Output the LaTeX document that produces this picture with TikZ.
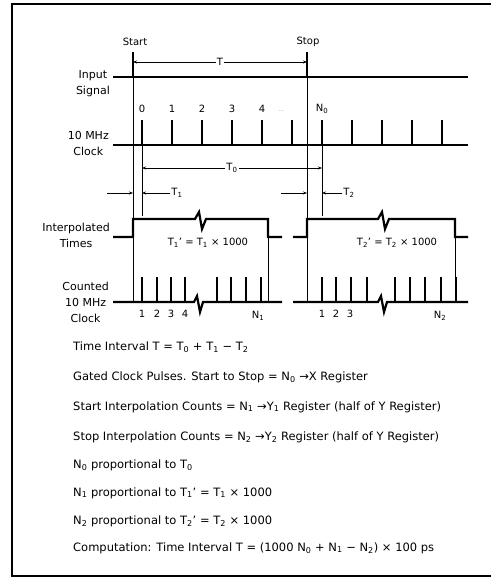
\documentclass[tikz,border=0pt]{standalone}
\usepackage{fontspec}
\setmainfont{DejaVu Sans}
\usetikzlibrary{arrows.meta}

\newcommand{\low}[1]{\textsubscript{#1}}

\begin{document}
\begin{tikzpicture}[x=1pt, y=-1pt, >={Stealth[length=4pt,width=3pt]},
    every node/.style={font=\fontsize{10}{16}\selectfont, inner sep=1pt},
    side/.style={align=center, anchor=east, font=\fontsize{11}{16}\selectfont},
    eq/.style={anchor=west, font=\fontsize{11.5}{14}\selectfont},
    signal/.style={line width=2.2pt},
    pulse/.style={line width=1.8pt},
    guide/.style={line width=0.6pt},
    dim/.style={line width=0.6pt}]

    \useasboundingbox (0,0) rectangle (491,581);
    \draw[line width=2.4pt] (491,4) -- (12,4) -- (12,576) -- (491,576);

    % time marks
    \coordinate (start) at (133,77);
    \coordinate (stop) at (307,77);
    \coordinate (c0) at (142,145);
    \coordinate (cN) at (322,145);
    \coordinate (e1) at (268,237);
    \coordinate (e2) at (455,237);
    \coordinate (rowT) at (0,62);
    \coordinate (rowTo) at (0,168);
    \coordinate (rowTi) at (0,193);
    \coordinate (cnt) at (0,302);

    \node (startlbl) at (135,42) {Start};
    \node (stoplbl) at (308,42) {Stop};

    \node[side] (insig) at (111,84) {Input\\Signal};
    \node[side] (clk) at (110,143) {10 MHz\\Clock};
    \node[side] (interp) at (111,235) {Interpolated\\Times};
    \node[side] (counted) at (110,302) {Counted\\10 MHz\\Clock};

    % input signal
    \draw[signal] (113,77) -- (468,77);
    \draw[pulse] (start) -- ++(0,-25);
    \draw[pulse] (stop) -- ++(0,-25);
    \draw[dim, <->] (start |- rowT) -- node[fill=white] (T) {T} (stop |- rowT);

    % 10 MHz clock
    \draw[signal] (113,145) -- (468,145);
    \foreach \i in {0,...,10}
        \draw[pulse] (142+30*\i,145) -- ++(0,-25);
    \foreach \i in {0,...,4}
        \node (n\i) at (142+30*\i,109) {\i};
    \node[font=\tiny, text=gray] (dots) at (281,111) {\ldots};
    \node (N0) at (322,109) {N\low{0}};

    % guide lines
    \draw[guide] (start) -- (start |- cnt);
    \draw[guide] (stop) -- (stop |- cnt);
    \draw[guide] (c0) -- ++(0,71);
    \draw[guide] (cN) -- ++(0,71);
    \draw[guide] (e1) -- (e1 |- cnt);
    \draw[guide] (e2) -- (e2 |- cnt);

    \draw[dim, <->] (c0 |- rowTo) -- node[fill=white] (To) {T\low{0}} (cN |- rowTo);

    \node (t1) at (177,193) {T\low{1}};
    \node (t2) at (349,193) {T\low{2}};
    \draw[dim, ->] (107,193) -- (start |- rowTi);
    \draw[dim, ->] (t1.west) -- (c0 |- rowTi);
    \draw[dim, ->] (281,193) -- (stop |- rowTi);
    \draw[dim, ->] (t2.west) -- (cN |- rowTi);

    % interpolated times
    \draw[signal] (113,237) -| (133,219) -- (195,219) -- (199,212) -- (202,229)
        -- (206,219) -| (e1) -- (282,237);
    \draw[signal] (293,237) -| (307,219) -- (378,219) -- (382,212) -- (385,229)
        -- (389,219) -| (e2) -- (468,237);
    \node (tp1) at (208,243) {T\low{1}' = T\low{1} × 1000};
    \node (tp2) at (397,243) {T\low{2}' = T\low{2} × 1000};

    % counted clock
    \draw[signal] (113,302) -- (194,302) -- (197,296) -- (200,312) -- (203,302) -- (282,302);
    \draw[signal] (293,302) -- (378,302) -- (381,296) -- (384,312) -- (387,302) -- (468,302);
    \foreach \x in {142,157,171,185,217,231,246,261,322,336,351,367,395,410,425,441}
        \draw[pulse] (\x,302) -- ++(0,-25);
    \draw[line width=2.6pt] (456,302) -- ++(0,-25);
    \foreach \x/\t in {142/1,157/2,171/3,185/4,322/1,336/2,350/3}
        \node at (\x,314) {\t};
    \node (N1) at (258,316) {N\low{1}};
    \node (N2) at (440,316) {N\low{2}};

    % equations
    \node[eq] (eq1) at (72,347) {Time Interval T = T\low{0} + T\low{1} − T\low{2}};
    \node[eq] (eq2) at (72,377) {Gated Clock Pulses. Start to Stop = N\low{0} →X Register};
    \node[eq] (eq3) at (72,407) {Start Interpolation Counts = N\low{1} →Y\low{1} Register (half of Y Register)};
    \node[eq] (eq4) at (72,437) {Stop Interpolation Counts = N\low{2} →Y\low{2} Register (half of Y Register)};
    \node[eq] (eq5) at (72,465) {N\low{0} proportional to T\low{0}};
    \node[eq] (eq6) at (72,493) {N\low{1} proportional to T\low{1}' = T\low{1} × 1000};
    \node[eq] (eq7) at (72,521) {N\low{2} proportional to T\low{2}' = T\low{2} × 1000};
    \node[eq] (eq8) at (72,548) {Computation: Time Interval T = (1000 N\low{0} + N\low{1} − N\low{2}) × 100 ps};

\end{tikzpicture}
\end{document}
